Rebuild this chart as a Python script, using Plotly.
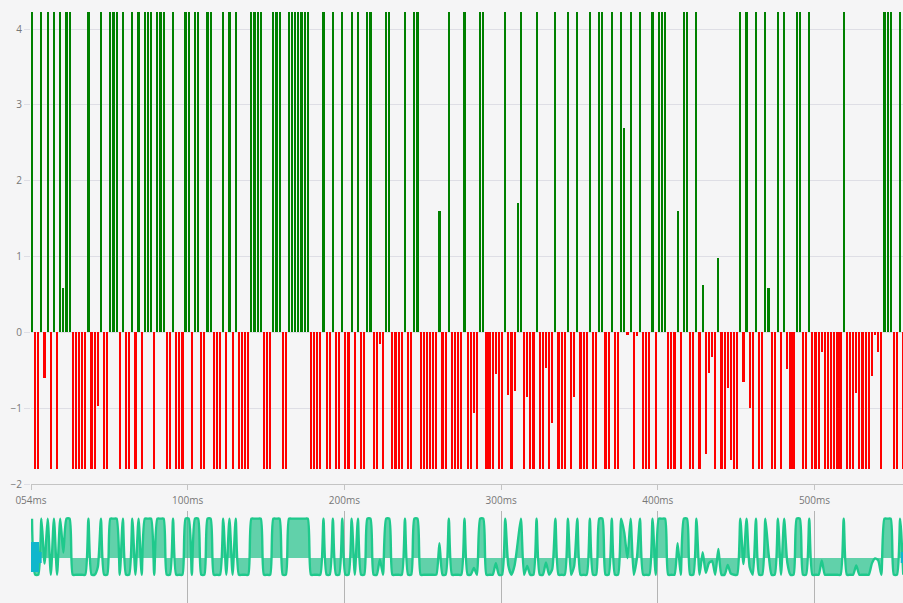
import numpy as np
import plotly.graph_objects as go

# one signed sample every 2 ms
values = [
 4.23,-1.8,-1.8,4.23,-0.6,4.23,-1.8,4.23,-1.8,4.23,
 0.58,4.23,4.23,-1.8,-1.8,-1.8,-1.8,-1.8,4.23,-1.8,
 -1.8,-0.97,4.23,-1.8,-1.8,4.23,4.23,4.23,-1.8,4.23,
 -1.8,-1.8,4.23,-1.8,4.23,-1.8,4.23,4.23,4.23,-1.8,
 4.23,4.23,4.23,-1.8,-1.8,4.23,-1.8,-1.8,-1.8,4.23,
 4.23,-1.8,4.23,4.23,-1.8,-1.8,4.23,4.23,-1.8,-1.8,
 -1.8,4.23,-1.8,4.23,-1.8,4.23,-1.8,-1.8,-1.8,-1.8,
 4.23,4.23,4.23,4.23,-1.8,-1.8,-1.8,4.23,4.23,4.23,
 -1.8,-1.8,4.23,4.23,4.23,4.23,4.23,4.23,4.23,-1.8,
 -1.8,-1.8,-1.8,4.23,-1.8,-1.8,4.23,-1.8,-1.8,4.23,
 -1.8,-1.8,4.23,-1.8,4.23,-1.8,-1.8,4.23,4.23,-1.8,
 -1.8,-0.15,-1.8,4.23,4.23,-1.8,-1.8,-1.8,-1.8,4.23,
 -1.8,-1.8,4.23,4.23,-1.8,-1.8,-1.8,-1.8,-1.8,-1.8,
 1.6,-1.8,-1.8,4.23,-1.8,-1.8,-1.8,-1.8,4.23,-1.8,
 -1.8,-1.07,-1.8,4.23,4.23,-1.8,-1.8,-1.8,-0.55,-1.8,
 -1.8,4.23,-0.83,-1.8,-0.77,1.7,4.23,-1.8,-0.85,-1.8,
 -1.8,4.23,-1.8,-1.8,-0.47,-1.8,-1.2,4.23,-1.8,-1.8,
 -1.8,4.23,-1.8,-0.85,4.23,-1.8,-1.8,-1.8,4.23,-1.8,
 -1.8,4.23,4.23,-1.8,-1.8,4.23,-1.8,-1.8,4.23,2.7,
 -0.03,4.23,-1.8,-0.05,4.23,-1.8,-1.8,-1.8,4.23,-1.8,
 4.23,4.23,4.23,-1.8,-1.8,-1.8,1.6,-1.8,4.23,4.23,
 -1.8,-1.8,4.23,-1.8,0.62,-1.6,-0.54,-0.32,-1.8,0.98,
 -1.8,-1.8,-0.74,-1.69,-1.8,-1.8,4.23,-0.66,4.23,-1.0,
 -1.8,4.23,-1.8,-1.8,4.23,0.58,-1.8,-1.8,4.23,-1.8,
 4.23,-0.48,-1.8,-1.8,4.23,4.23,-1.8,-1.8,4.23,-1.8,
 -1.8,-1.8,-0.26,-1.8,-1.8,-1.8,-1.8,-1.8,-1.8,4.23,
 -1.8,-1.8,-1.8,-0.8,-1.8,-1.8,-1.8,-1.8,-0.58,-0.04,
 -0.26,-1.8,4.23,4.23,4.23,-1.8,-1.8,4.23,-1.8,
]
tick_ms = [0, 100, 200, 300, 400, 500]
tick_labels = ["054ms", "100ms", "200ms", "300ms", "400ms", "500ms"]
y_ticks = [-2, -1, 0, 1, 2, 3, 4]

W, H = 903, 603
PH = H
v = np.array(values)
t = np.arange(len(v)) * 2 + 0.64
pos = v > 0
FONT = dict(family="Open Sans, sans-serif", size=10, color="#777777")

fig = go.Figure()
fig.add_bar(x=t[pos], y=v[pos], width=1.38, marker=dict(color="#008000", line_width=0), xaxis="x", yaxis="y")
fig.add_bar(x=t[~pos], y=v[~pos], width=1.38, marker=dict(color="#ff0000", line_width=0), xaxis="x", yaxis="y")
fig.add_scatter(x=t, y=v, mode="lines", line=dict(color="#1fc98c", width=2.4, shape="spline", smoothing=0.6),
                fill="tozeroy", fillcolor="rgba(40,195,140,0.72)", xaxis="x2", yaxis="y2", cliponaxis=False)

xrange_ = [0, (W - 31) / 1.567]
fig.update_layout(
    width=W, height=H, showlegend=False, barmode="overlay",
    margin=dict(l=31, r=0, t=0, b=0, autoexpand=False),
    paper_bgcolor="#f5f5f6", plot_bgcolor="#f5f5f6",
    font=FONT,
    xaxis=dict(domain=[0, 1], range=xrange_, anchor="y", tickmode="array", tickvals=tick_ms, ticktext=tick_labels,
               showgrid=False, zeroline=False, showline=True, linecolor="#c4c4c4", linewidth=1,
               ticks="outside", ticklen=5, tickcolor="#c4c4c4", tickfont=FONT, ticklabelstandoff=2, automargin=False),
    yaxis=dict(domain=[(H - 484) / PH, (H - 5) / PH], range=[-2, (332 - 5) / 75.75], anchor="x", tickmode="array", tickvals=y_ticks,
               showgrid=True, gridcolor="#dedee5", gridwidth=1, zeroline=False, showline=False,
               ticks="outside", ticklen=6, tickcolor="#dedee5", tickfont=FONT, automargin=False),
    xaxis2=dict(domain=[0, 1], range=xrange_, anchor="y2", tickmode="array", tickvals=tick_ms, showticklabels=False,
                showgrid=True, gridcolor="#b4b4b4", gridwidth=1, zeroline=False, showline=False, ticks="", automargin=False),
    yaxis2=dict(domain=[0, (H - 511) / PH], range=[-45 / 9.3, 47 / 9.3], anchor="x2", showticklabels=False,
                showgrid=False, zeroline=False, showline=False, ticks="", automargin=False),
    bargap=0,
)
# slider handles of the overview strip
handle = "#0fb7cc"
for x0, x1, y0, y1 in [(0, 5.1, 542, 572), (0, 6.8, 552, 563), (555, 557, 552, 563)]:
    fig.add_shape(type="rect", xref="x2", yref="paper", x0=x0, x1=x1, y0=(H - y1) / PH, y1=(H - y0) / PH,
                  fillcolor=handle, line_width=0, layer="above")

fig.write_html("out.html", post_script="document.body.style.margin='0';", config=dict(displayModeBar=False))
